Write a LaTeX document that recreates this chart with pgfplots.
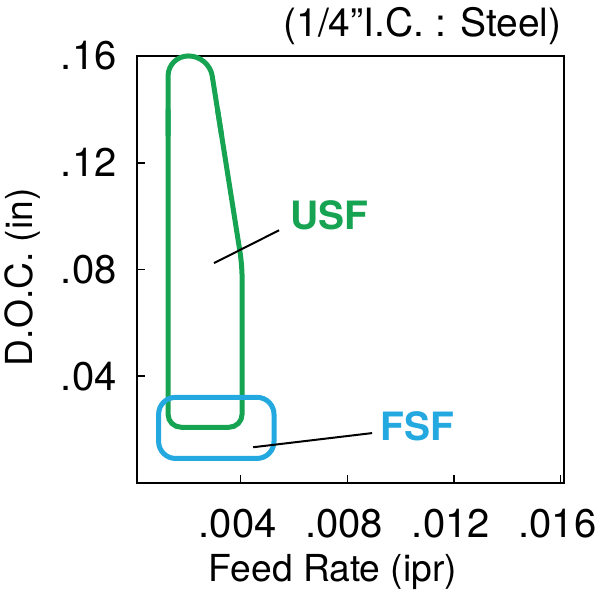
\documentclass[border=0pt]{standalone}
\usepackage{pgfplots}
\pgfplotsset{compat=1.18}
\usepackage{fontspec}
\setmainfont{TeX Gyre Heros}
\definecolor{usfgreen}{RGB}{22,164,82}
\definecolor{fsfblue}{RGB}{36,168,224}
\begin{document}
\begin{tikzpicture}
\begin{axis}[
  scale only axis,
  width=213.5pt, height=213.5pt,
  xmin=0.00011, xmax=0.01613,
  ymin=0, ymax=0.16,
  clip=false,
  axis line style={black, line width=0.8pt},
  xtick={0.004,0.008,0.012,0.016},
  xticklabels={.004,.008,.012,.016},
  ytick={0.04,0.08,0.12,0.16},
  yticklabels={.04,.08,.12,.16},
  xtick pos=left, ytick pos=left,
  tick align=inside,
  major tick length=4pt,
  tick style={black, line width=0.8pt},
  scaled ticks=false,
  xticklabel style={font=\fontsize{20}{22}\selectfont, anchor=base, yshift=-27pt, xshift=-1.5pt, inner sep=0pt},
  yticklabel style={font=\fontsize{20}{22}\selectfont, anchor=east, xshift=-10pt, inner sep=0pt},
  label style={font=\fontsize{18.6}{20}\selectfont},
  xlabel={Feed Rate (ipr)},
  xlabel style={at={(axis description cs:0.459,-0.2318)}, anchor=base, inner sep=0pt},
  ylabel={D.O.C. (in)},
  ylabel style={at={(axis description cs:-0.2436,0.482)}, anchor=base, inner sep=0pt},
]
% USF region: body
\addplot[usfgreen, line width=2.5pt, rounded corners=6.5pt, mark=none] coordinates {
  (0.003130,0.1400) (0.004053,0.0816)
  (0.004053,0.02089) (0.001276,0.02089) (0.001276,0.1400)
};
% USF region: rounded cap
\addplot[usfgreen, line width=2.5pt, rounded corners=10pt, mark=none] coordinates {
  (0.001276,0.1300) (0.001276,0.1600) (0.002814,0.1600) (0.003288,0.1300)
};
% FSF region
\addplot[fsfblue, line width=2.5pt, rounded corners=8.5pt, mark=none] coordinates {
  (0.00092,0.0200) (0.00092,0.0321) (0.00525,0.0321)
  (0.00525,0.0092) (0.00092,0.0092) (0.00092,0.0200)
};
% leader lines
\addplot[black, line width=1pt, mark=none] coordinates {(0.00300,0.0824) (0.00544,0.0947)};
\addplot[black, line width=1pt, mark=none] coordinates {(0.00447,0.0134) (0.00893,0.0187)};
\node[font=\fontsize{19.5}{20}\selectfont\bfseries, text=usfgreen] at (axis cs:0.00734,0.1004) {USF};
\node[font=\fontsize{19.5}{20}\selectfont\bfseries, text=fsfblue] at (axis cs:0.01064,0.0211) {FSF};
\node[font=\fontsize{19.5}{21}\selectfont, anchor=base east, inner sep=0pt] at (axis description cs:0.995,1.045) {(1/4”I.C. : Steel)};
\end{axis}
\pgfresetboundingbox
\path (current axis.south west) +(-68.5pt,-58.5pt) (current axis.north east) +(18pt,28pt);
\end{tikzpicture}
\end{document}
